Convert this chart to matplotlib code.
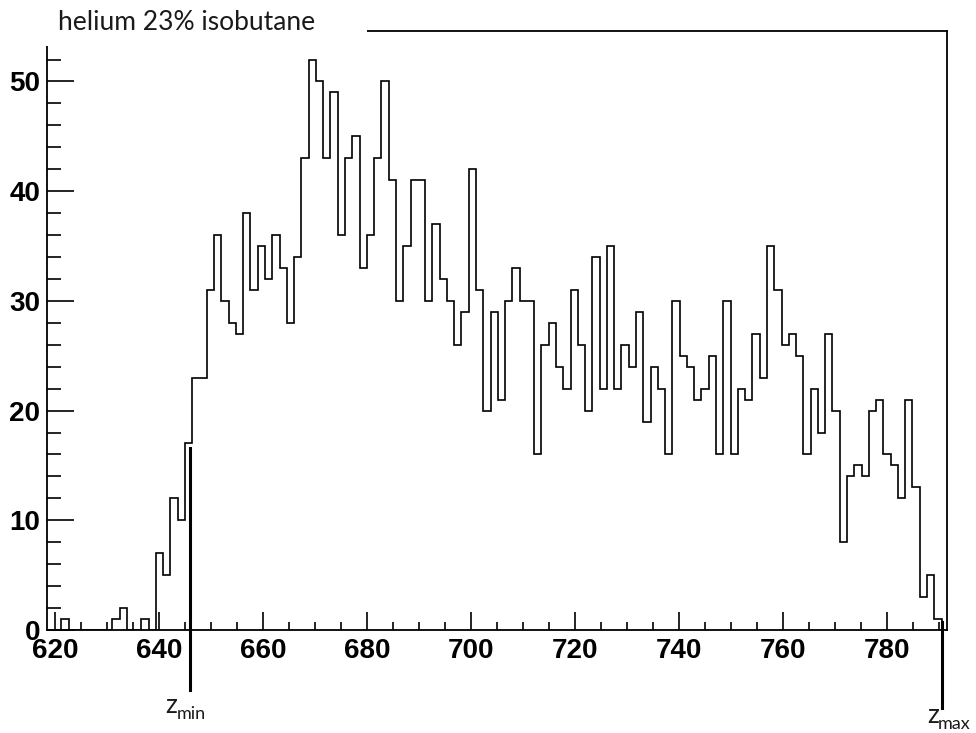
import matplotlib.pyplot as plt
from matplotlib.ticker import MultipleLocator
from matplotlib.patches import Rectangle
import numpy as np

# z histogram, 1.4 wide bins starting at 618.35
z_lo = 618.35
bin_width = 1.4
counts = [0, 0, 1, 0, 0, 0, 0, 0, 0, 1,
          2, 0, 0, 1, 0, 7, 5, 12, 10, 17,
          23, 23, 31, 36, 30, 28, 27, 38, 31, 35,
          32, 36, 33, 28, 34, 43, 52, 50, 43, 49,
          36, 43, 45, 33, 36, 43, 50, 41, 30, 35,
          41, 41, 30, 37, 32, 30, 26, 29, 42, 31,
          20, 29, 21, 30, 33, 30, 30, 16, 26, 28,
          24, 22, 31, 26, 20, 34, 22, 35, 22, 26,
          24, 29, 19, 24, 22, 16, 30, 25, 24, 21,
          22, 25, 16, 30, 16, 22, 21, 27, 23, 35,
          31, 26, 27, 25, 16, 22, 18, 27, 20, 8,
          14, 15, 14, 20, 21, 16, 15, 12, 21, 13,
          3, 5, 1]
edges = z_lo + bin_width * np.arange(len(counts) + 1)

# cut positions
z_min = 646.0
z_max = 790.7

title = 'helium 23% isobutane'

W, H = 976, 733
fig = plt.figure(figsize=(W / 100, H / 100), dpi=100)
ax = fig.add_axes([47.3 / W, 103 / H, 899.7 / W, 599 / H])

ax.stairs(counts, edges, color='black', lw=1.2, baseline=0)

ax.set_xlim(618.45, 791.6)
ax.set_ylim(0, 54.6)

ax.xaxis.set_major_locator(MultipleLocator(20))
ax.xaxis.set_minor_locator(MultipleLocator(5))
ax.yaxis.set_major_locator(MultipleLocator(10))
ax.yaxis.set_minor_locator(MultipleLocator(2))
ax.tick_params(which='both', direction='in', top=False, right=False, width=1.2)
ax.tick_params(axis='x', which='major', length=13, pad=6)
ax.tick_params(axis='x', which='minor', length=6)
ax.tick_params(axis='y', which='major', length=19.5, pad=5)
ax.tick_params(axis='y', which='minor', length=10)
for lab in ax.get_xticklabels() + ax.get_yticklabels():
    lab.set_fontfamily('Liberation Sans')
    lab.set_fontweight('bold')
    lab.set_fontsize(20)
for sp in ax.spines.values():
    sp.set_linewidth(1.3)

# zmin / zmax markers
ax.plot([z_min, z_min], [16.6, -5.5], color='black', lw=2.2, clip_on=False)
ax.plot([z_max, z_max], [0.75, -7.1], color='black', lw=2.2, clip_on=False)

# white title box over the top left of the frame
fig.add_artist(Rectangle((0, 1 - 46 / H), 367 / W, 46 / H, transform=fig.transFigure,
                         facecolor='white', edgecolor='none', zorder=5))
fig.text(58 / W, 1 - 30 / H, title, fontfamily='Lato', fontsize=19,
         va='baseline', ha='left', color='#1a1a1a', zorder=6)

fig.text(165 / W, 1 - 713 / H, 'z', fontfamily='Lato', fontsize=19,
         va='baseline', ha='left', color='#1a1a1a')
fig.text(177 / W, 1 - 719 / H, 'min', fontfamily='Lato', fontsize=13,
         va='baseline', ha='left', color='#1a1a1a')
fig.text(927 / W, 1 - 723 / H, 'z', fontfamily='Lato', fontsize=19,
         va='baseline', ha='left', color='#1a1a1a')
fig.text(938 / W, 1 - 729 / H, 'max', fontfamily='Lato', fontsize=13,
         va='baseline', ha='left', color='#1a1a1a')

fig.savefig('out.png', dpi=100)
